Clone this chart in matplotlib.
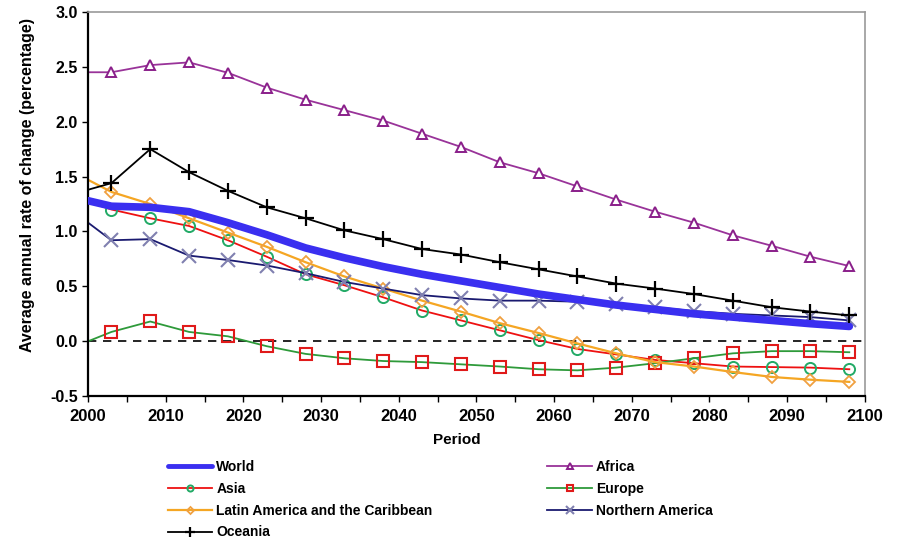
import matplotlib
matplotlib.use("Agg")
import matplotlib.pyplot as plt
import numpy as np

plt.rcParams["font.family"] = ["Liberation Sans", "DejaVu Sans"]

# first entry is where each curve enters the plot, the rest are period marks
years = [2000] + [2003 + 5 * i for i in range(20)]

world = [1.28, 1.23, 1.22, 1.18, 1.08, 0.97, 0.85, 0.76, 0.68, 0.61, 0.55,
         0.49, 0.43, 0.38, 0.33, 0.29, 0.25, 0.22, 0.19, 0.16, 0.135]
africa = [2.45, 2.45, 2.515, 2.54, 2.445, 2.31, 2.20, 2.105, 2.01, 1.89, 1.77,
          1.63, 1.53, 1.41, 1.29, 1.18, 1.08, 0.965, 0.87, 0.77, 0.685]
asia = [1.27, 1.20, 1.12, 1.05, 0.92, 0.77, 0.61, 0.51, 0.40, 0.28, 0.19,
        0.10, 0.01, -0.07, -0.12, -0.17, -0.20, -0.23, -0.235, -0.24, -0.255]
europe = [0.0, 0.085, 0.18, 0.085, 0.045, -0.045, -0.115, -0.155, -0.18, -0.19, -0.21,
          -0.23, -0.255, -0.265, -0.24, -0.20, -0.155, -0.11, -0.09, -0.09, -0.10]
latam = [1.47, 1.36, 1.25, 1.12, 0.99, 0.86, 0.72, 0.59, 0.48, 0.37, 0.27,
         0.165, 0.075, -0.02, -0.11, -0.19, -0.23, -0.28, -0.325, -0.35, -0.37]
namerica = [1.08, 0.92, 0.93, 0.78, 0.74, 0.69, 0.62, 0.54, 0.48, 0.42, 0.39,
            0.37, 0.37, 0.36, 0.34, 0.31, 0.275, 0.25, 0.235, 0.22, 0.19]
oceania = [1.38, 1.44, 1.75, 1.54, 1.37, 1.22, 1.12, 1.01, 0.93, 0.84, 0.79,
           0.72, 0.655, 0.59, 0.525, 0.48, 0.43, 0.37, 0.31, 0.27, 0.235]

fig = plt.figure(figsize=(8.99, 5.39), dpi=100)
ax = fig.add_axes([0.098, 0.265, 0.864, 0.713])

marks = slice(1, None)
ax.axhline(0, color="black", lw=1.2, ls=(0, (5, 4)), zorder=1)

h_world, = ax.plot(years, world, color="#3a2ff0", lw=5.5, solid_capstyle="round",
                   label="World", zorder=3)
h_africa, = ax.plot(years, africa, color="#993399", lw=1.3, marker="^", ms=7,
                    mfc="white", mec="#8a1f8a", mew=1.4, markevery=marks, label="Africa")
h_asia, = ax.plot(years, asia, color="#ee1111", lw=1.3, marker="o", ms=8,
                  mfc="none", mec="#22aa66", mew=1.4, markevery=marks, label="Asia")
h_europe, = ax.plot(years, europe, color="#2e9a3a", lw=1.3, marker="s", ms=8,
                    mfc="none", mec="#e01a1a", mew=1.5, markevery=marks, label="Europe")
h_latam, = ax.plot(years, latam, color="#f5a623", lw=1.6, marker="D", ms=6.5,
                   mfc="none", mec="#f0a040", mew=1.3, markevery=marks,
                   label="Latin America and the Caribbean")
h_nam, = ax.plot(years, namerica, color="#1a1a70", lw=1.3, marker="x", ms=10,
                 mec="#8080b0", mew=1.5, markevery=marks, label="Northern America")
h_oce, = ax.plot(years, oceania, color="black", lw=1.3, marker="+", ms=12,
                 mew=1.6, markevery=marks, label="Oceania", zorder=4)

ax.set_xlim(2000, 2100)
ax.set_ylim(-0.5, 3.0)
ax.set_xticks(np.arange(2000, 2101, 10))
ax.set_xticks(np.arange(2005, 2100, 10), minor=True)
ax.set_yticks(np.arange(-0.5, 3.01, 0.5))
ax.set_yticklabels([f"{v:.1f}" for v in np.arange(-0.5, 3.01, 0.5)])
ax.tick_params(axis="both", which="both", direction="out", length=4, width=1)
ax.tick_params(axis="x", labelsize=12, pad=5)
ax.tick_params(axis="y", labelsize=11.5)
for lab in ax.get_xticklabels() + ax.get_yticklabels():
    lab.set_fontweight("bold")

for side in ("left", "bottom"):
    ax.spines[side].set_linewidth(1.6)
for side in ("top", "right"):
    ax.spines[side].set_color("#999999")
    ax.spines[side].set_linewidth(1.2)

ax.set_xlabel("Period", fontsize=11, fontweight="bold")
ax.xaxis.set_label_coords(0.475, -0.097)
ax.set_ylabel("Average annual rate of change (percentage)", fontsize=11.5,
              fontweight="bold")
ax.yaxis.set_label_coords(-0.068, 0.55)

handles = [h_world, h_asia, h_latam, h_oce, h_africa, h_europe, h_nam]
leg = fig.legend(handles=handles, labels=[h.get_label() for h in handles],
                 ncol=2, loc="upper left", bbox_to_anchor=(0.179, 0.16),
                 frameon=False, fontsize=10, markerscale=0.55, borderpad=0,
                 handlelength=3.2, handletextpad=0.3, columnspacing=8.25,
                 labelspacing=0.57)
leg.get_lines()[0].set_linewidth(3.5)
for t in leg.get_texts():
    t.set_fontweight("bold")

fig.savefig("out.png", dpi=100)
